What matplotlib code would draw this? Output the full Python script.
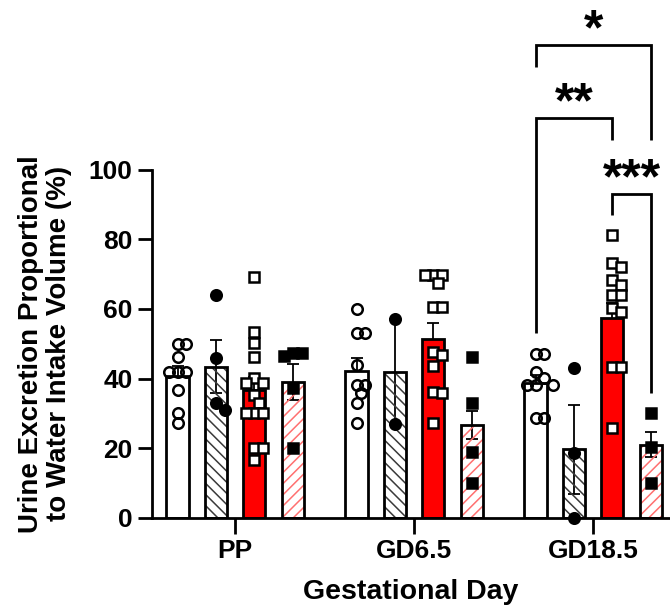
import numpy as np
import matplotlib
matplotlib.use("Agg")
import matplotlib.pyplot as plt

plt.rcParams["font.family"] = ["Liberation Sans", "DejaVu Sans"]
plt.rcParams["font.weight"] = "bold"
plt.rcParams["hatch.linewidth"] = 1.1

# ---- data -------------------------------------------------------------
groups = ["PP", "GD6.5", "GD18.5"]
y_ticks = [0, 20, 40, 60, 80, 100]

# open bars, open circles
open_mean = [40.8, 42.2, 38.7]
open_sem = [2.7, 3.6, 2.2]
open_points = [
    [49.9, 49.9, 46.1, 42.0, 42.0, 42.0, 36.7, 30.0, 27.1],
    [59.9, 53.0, 53.0, 43.9, 38.1, 38.1, 35.7, 32.9, 27.1],
    [47.1, 47.1, 42.0, 40.1, 38.1, 38.1, 38.1, 28.5, 28.5],
]

# grey hatched bars, filled circles
hatch_mean = [43.4, 42.0, 19.6]
hatch_sem = [7.6, 15.0, 12.7]
hatch_points = [
    [64.0, 45.8, 32.9, 30.9],
    [57.0, 26.9],
    [43.0, 18.5, 0.0],
]

# red bars, open squares
red_mean = [36.7, 51.3, 57.5]
red_sem = [3.6, 4.8, 4.3]
red_points = [
    [69.3, 53.5, 50.1, 46.3, 40.1, 38.6, 38.6, 35.3, 32.9, 30.0, 30.0, 30.0,
     19.9, 19.9, 16.5],
    [69.8, 69.8, 69.8, 67.4, 60.7, 60.7, 47.5, 46.8, 43.5, 36.2, 35.7, 27.1],
    [81.3, 73.2, 72.2, 68.3, 66.9, 64.0, 64.0, 60.2, 59.2, 43.4, 43.4, 25.7],
]

# red hatched bars, filled squares
redhatch_mean = [39.0, 26.6, 21.0]
redhatch_sem = [5.3, 4.0, 3.7]
redhatch_points = [
    [47.3, 47.3, 46.5, 37.2, 19.9],
    [46.1, 32.9, 18.9, 9.8],
    [30.0, 20.4, 9.8],
]

# ---- figure -----------------------------------------------------------
W, H = 670, 613
fig = plt.figure(figsize=(W / 100, H / 100), dpi=100)
ax_left, ax_right, ax_top, ax_bottom = 152, 670, 170, 517.5
ax = fig.add_axes([ax_left / W, (H - ax_bottom) / H,
                   (ax_right - ax_left) / W, (ax_bottom - ax_top) / H])
x0 = -0.465
ax.set_xlim(x0, x0 + (ax_right - ax_left) / 179.0)
ax.set_ylim(0, 100)

x = np.arange(len(groups))
step = 0.215
offsets = np.array([-1.5, -0.5, 0.5, 1.5]) * step
bar_w = 0.123
edge_lw = 2.0

px_x = ax.transData.transform((1, 0))[0] - ax.transData.transform((0, 0))[0]
px_y = ax.transData.transform((0, 1))[1] - ax.transData.transform((0, 0))[1]


def swarm(values, center, min_px=8.6, step_px=4.3):
    """Spread points sideways so markers at similar values do not stack."""
    placed = []
    xs = []
    order = [0]
    for i in range(1, 40):
        order += [i, -i]
    for v in values:
        yp = v * px_y
        for k in order:
            xp = k * step_px
            if all((xp - a) ** 2 + (yp - b) ** 2 >= min_px ** 2 for a, b in placed):
                break
        placed.append((xp, yp))
        xs.append(center + xp / px_x)
    return np.array(xs)


series = [
    dict(mean=open_mean, sem=open_sem, pts=open_points, face="white", hatch=None,
         marker="o", mfc="none", ms=7.6),
    dict(mean=hatch_mean, sem=hatch_sem, pts=hatch_points, face="none", hatch="\\\\\\",
         hcolor="#3a3a3a", marker="o", mfc="black", ms=7.6),
    dict(mean=red_mean, sem=red_sem, pts=red_points, face="#ff0000", hatch=None,
         marker="s", mfc="white", ms=6.8),
    dict(mean=redhatch_mean, sem=redhatch_sem, pts=redhatch_points, face="none",
         hatch="///", hcolor="#ff7070", marker="s", mfc="black", ms=6.8),
]

for s, off in zip(series, offsets):
    xs = x + off
    ax.errorbar(xs, s["mean"], yerr=s["sem"], fmt="none", ecolor="black",
                elinewidth=1.3, capsize=4.3, capthick=1.3, zorder=1)
    if s["hatch"]:
        ax.bar(xs, s["mean"], width=bar_w, facecolor="none", edgecolor=s["hcolor"],
               hatch=s["hatch"], linewidth=0, zorder=2)
        ax.bar(xs, s["mean"], width=bar_w, facecolor="none", edgecolor="black",
               linewidth=edge_lw, zorder=3)
    else:
        ax.bar(xs, s["mean"], width=bar_w, facecolor=s["face"], edgecolor="black",
               linewidth=edge_lw, zorder=2)
    for g, pts in enumerate(s["pts"]):
        px = swarm(pts, xs[g])
        ax.plot(px, pts, linestyle="none", marker=s["marker"], ms=s["ms"], mew=1.8,
                mfc=s["mfc"], mec="black", zorder=5, clip_on=False)

# ---- axes styling -----------------------------------------------------
for side in ("top", "right"):
    ax.spines[side].set_visible(False)
for side in ("left", "bottom"):
    ax.spines[side].set_linewidth(2.0)

ax.set_yticks(y_ticks)
ax.set_xticks(x)
ax.set_xticklabels(groups)
ax.tick_params(axis="y", length=10, width=2, pad=4, labelsize=19)
ax.tick_params(axis="x", length=11.5, width=2, pad=4, labelsize=19)

ax.set_xlabel("Gestational Day", fontsize=20.5, fontweight="bold")
ax.xaxis.set_label_coords(0.5, -0.215)
ax.xaxis.label.set_verticalalignment("center")

ax.set_ylabel("Urine Excretion Proportional\nto Water Intake Volume (%)",
              fontsize=20, fontweight="bold", linespacing=1.1)
ax.yaxis.label.set_verticalalignment("center")
ax.yaxis.set_label_coords(-0.2075, 0.5)

# ---- significance brackets (GD18.5) -----------------------------------
xw = x[2] + offsets[0]
xr = x[2] + offsets[2]
xh = x[2] + offsets[3]


def bracket(x1, x2, top, y1, y2, label):
    ax.plot([x1, x1, x2, x2], [y1, top, top, y2], color="black", lw=2.0,
            clip_on=False, solid_joinstyle="miter", solid_capstyle="butt", zorder=6)
    ax.annotate(label, xy=((x1 + x2) / 2, top), xytext=(0, 10),
                textcoords="offset points", ha="center", va="center",
                fontsize=36, fontweight="bold", annotation_clip=False)


bracket(xw, xh, 136.0, 129.7, 108.6, "*")
bracket(xw, xr, 114.9, 53.0, 108.6, "**")
bracket(xr, xh, 93.1, 87.1, 35.8, "***")

fig.savefig("out.png", dpi=100)
